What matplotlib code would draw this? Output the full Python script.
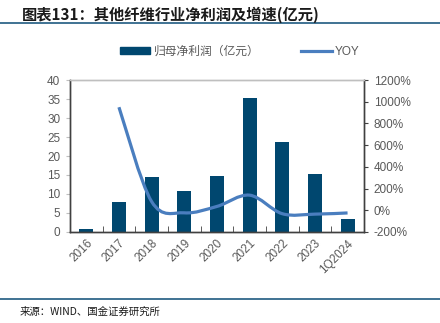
import matplotlib
matplotlib.use("Agg")
import matplotlib.pyplot as plt
import numpy as np
from matplotlib.path import Path
from matplotlib.patches import PathPatch
from matplotlib.lines import Line2D
from matplotlib.patches import Patch

plt.rcParams['font.family'] = ['Liberation Sans', 'Noto Sans CJK SC', 'DejaVu Sans']

categories = ['2016', '2017', '2018', '2019', '2020', '2021', '2022', '2023', '1Q2024']
profit = [0.8, 8.0, 14.4, 10.9, 14.7, 35.2, 23.8, 15.2, 3.3]
yoy = [np.nan, 950, 80, -24, 35, 139, -32, -36, -25]

bar_color = '#00476F'
line_color = '#4A7EBF'
grey = '#595959'


def smooth_path(xs, ys, tension=1.0 / 6):
    # Excel-style smoothed line: Catmull-Rom converted to cubic bezier segments
    verts = [(xs[0], ys[0])]
    codes = [Path.MOVETO]
    n = len(xs)
    for i in range(n - 1):
        x0, y0 = (xs[i - 1], ys[i - 1]) if i > 0 else (xs[i], ys[i])
        x1, y1 = xs[i], ys[i]
        x2, y2 = xs[i + 1], ys[i + 1]
        x3, y3 = (xs[i + 2], ys[i + 2]) if i + 2 < n else (x2, y2)
        c1 = (x1 + (x2 - x0) * tension, y1 + (y2 - y0) * tension)
        c2 = (x2 - (x3 - x1) * tension, y2 - (y3 - y1) * tension)
        verts += [c1, c2, (x2, y2)]
        codes += [Path.CURVE4] * 3
    return Path(verts, codes)


fig = plt.figure(figsize=(4.4, 3.23), dpi=100)
ax = fig.add_axes([0.159, 0.282, 0.668, 0.47])
ax2 = ax.twinx()

x = np.arange(len(categories))
ax.bar(x, profit, width=0.43, color=bar_color, zorder=2)

ax.set_xlim(-0.5, len(categories) - 0.5)
ax.set_ylim(0, 40)
ax.set_yticks(np.arange(0, 41, 5))
ax2.set_ylim(-200, 1200)
ax2.set_yticks(np.arange(-200, 1201, 200))
ax2.set_yticklabels([f'{v}%' for v in range(-200, 1201, 200)])

ax.set_xticks(x)
ax.set_xticklabels(categories, rotation=45, ha='right', rotation_mode='anchor')
ax.set_xticks(np.arange(-0.5, len(categories), 1), minor=True)
ax.tick_params(axis='x', which='major', length=0, pad=4, labelsize=8.5, labelcolor=grey)
ax.tick_params(axis='x', which='minor', length=4, direction='in', color='#404040')
ax.tick_params(axis='y', length=3, direction='out', color='#bfbfbf', labelsize=8.5, labelcolor=grey, pad=4)
ax2.tick_params(axis='y', length=3, direction='out', color='#404040', labelsize=8.5, labelcolor=grey, pad=4)

# yoy line, smoothed
yx = [xi for xi, v in zip(x, yoy) if not np.isnan(v)]
yv = [v for v in yoy if not np.isnan(v)]
pp = PathPatch(smooth_path(yx, yv), facecolor='none', edgecolor=line_color,
               lw=2.3, transform=ax2.transData, zorder=3, capstyle='butt')
ax2.add_patch(pp)

for a in (ax, ax2):
    a.spines['top'].set_color('#bfbfbf')
    a.spines['left'].set_color('#404040')
    a.spines['right'].set_color('#404040')
    a.spines['bottom'].set_color('#404040')
    for s in a.spines.values():
        s.set_linewidth(1.0)

handles = [Patch(color=bar_color), Line2D([0], [0], color=line_color, lw=2.3)]
fig.legend(handles, ['归母净利润（亿元）', 'YOY'], loc='center', bbox_to_anchor=(0.545, 0.84),
           ncol=2, frameon=False, fontsize=8.5, labelcolor=grey, handlelength=2.6,
           handleheight=0.6, columnspacing=3.5, handletextpad=0.3)

fig.text(0.05, 0.955, '图表131：其他纤维行业净利润及增速(亿元)', fontsize=11, fontweight='bold',
         color='#1a1a1a', va='center', ha='left', family=['Noto Sans CJK SC', 'DejaVu Sans'])
fig.add_artist(Line2D([0, 1], [0.928, 0.928], color='#1F5A80', lw=1.2))
fig.add_artist(Line2D([0, 1], [0.073, 0.073], color='#1F5A80', lw=1.2))
fig.text(0.045, 0.035, '来源：WIND、国金证券研究所', fontsize=7.5, color='#1a1a1a',
         va='center', ha='left', family=['Noto Sans CJK SC', 'DejaVu Sans'])

fig.savefig('out.png', dpi=100, facecolor='white')
